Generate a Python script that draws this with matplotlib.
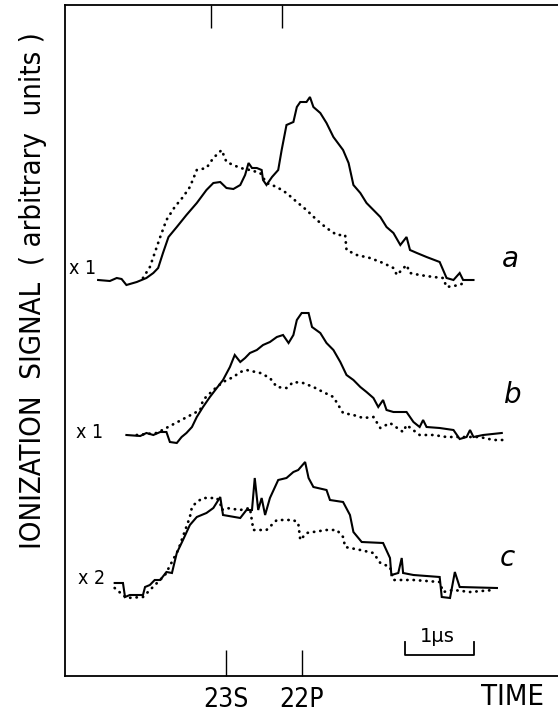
import numpy as np
import matplotlib
matplotlib.use("Agg")
import matplotlib.pyplot as plt

plt.rcParams['font.family'] = ['DejaVu Sans']

# time in microseconds, signal in arbitrary units above each trace's baseline
# trace a (x1)
a_solid_t = [0.48, 0.65, 0.75, 0.82, 0.89, 1.04, 1.18, 1.28, 1.35, 1.42, 1.50, 1.62, 1.76, 1.91,
             2.05, 2.15, 2.25, 2.34, 2.44, 2.54, 2.61, 2.66, 2.71, 2.78, 2.85, 2.87, 2.92, 3.00,
             3.09, 3.14, 3.21, 3.31, 3.36, 3.41, 3.50, 3.55, 3.60, 3.70, 3.79, 3.89, 4.03, 4.11,
             4.18, 4.28, 4.37, 4.47, 4.57, 4.66, 4.76, 4.86, 4.95, 5.00, 5.10, 5.24, 5.43, 5.53,
             5.63, 5.72, 5.77, 5.92]
a_solid_s = [0, -1, 2, 1, -5, -2, 2, 7, 12, 27, 43, 53, 65, 77,
             90, 97, 98, 92, 91, 95, 105, 117, 112, 112, 110, 100, 95, 103,
             110, 130, 155, 158, 173, 178, 178, 183, 173, 167, 157, 143, 130, 117,
             95, 87, 77, 70, 63, 53, 47, 35, 43, 30, 27, 23, 18, 2,
             0, 7, 0, 0]
a_dot_t = [1.13, 1.23, 1.30, 1.38, 1.47, 1.59, 1.71, 1.81, 1.91, 2.05, 2.15, 2.27, 2.34, 2.54,
           2.68, 2.83, 2.92, 3.07, 3.21, 3.36, 3.50, 3.65, 3.79, 3.94, 4.06, 4.08, 4.23, 4.42,
           4.61, 4.76, 4.81, 4.95, 5.00, 5.14, 5.34, 5.48, 5.53, 5.72, 5.80]
a_dot_s = [2, 13, 27, 43, 60, 73, 83, 93, 110, 112, 122, 130, 118, 112,
           110, 107, 97, 93, 87, 78, 70, 60, 52, 45, 45, 30, 25, 22,
           17, 12, 5, 15, 7, 5, 3, 2, -7, -5, -2]

# trace b (x1)
b_solid_t = [0.89, 1.09, 1.18, 1.28, 1.38, 1.47, 1.52, 1.62, 1.69, 1.76, 1.84, 1.91, 2.00, 2.10,
             2.20, 2.29, 2.39, 2.46, 2.54, 2.61, 2.68, 2.78, 2.87, 2.97, 3.07, 3.16, 3.24, 3.31,
             3.36, 3.43, 3.53, 3.58, 3.70, 3.79, 3.89, 3.99, 4.08, 4.18, 4.28, 4.37, 4.47, 4.54,
             4.61, 4.66, 4.76, 4.95, 5.05, 5.14, 5.19, 5.24, 5.43, 5.63, 5.72, 5.82, 5.87, 5.92,
             6.06, 6.33]
b_solid_s = [0, -1, 2, 0, 3, 3, -7, -8, -2, 2, 8, 18, 28, 38,
             47, 55, 68, 80, 73, 77, 82, 85, 90, 93, 98, 100, 92, 100,
             115, 122, 122, 108, 102, 92, 85, 73, 60, 55, 48, 43, 37, 28,
             35, 25, 23, 23, 13, 8, 15, 8, 7, 5, -4, -2, 5, -2,
             0, 2]
b_dot_t = [1.04, 1.33, 1.96, 2.00, 2.15, 2.29, 2.44, 2.54, 2.63, 2.83, 2.97, 3.07, 3.21, 3.31,
           3.45, 3.60, 3.74, 3.89, 4.03, 4.18, 4.32, 4.47, 4.57, 4.71, 4.90, 4.95, 5.14, 5.34,
           5.53, 5.72, 6.01, 6.21, 6.35]
b_dot_s = [0, 2, 25, 35, 45, 53, 58, 63, 65, 62, 57, 48, 47, 53,
           52, 48, 43, 38, 22, 20, 17, 18, 7, 12, 3, 10, 0, 0,
           -2, -2, -2, -5, -5]

# trace c (x2)
c_solid_t = [0.72, 0.84, 0.87, 0.94, 1.13, 1.16, 1.23, 1.30, 1.38, 1.47, 1.55, 1.62, 1.71, 1.81,
             1.91, 2.05, 2.15, 2.25, 2.29, 2.54, 2.63, 2.71, 2.75, 2.80, 2.85, 2.90, 2.97, 3.09,
             3.21, 3.31, 3.38, 3.48, 3.53, 3.60, 3.79, 3.84, 4.03, 4.13, 4.18, 4.30, 4.61, 4.71,
             4.73, 4.83, 4.88, 4.90, 5.05, 5.43, 5.46, 5.58, 5.65, 5.72, 6.26]
c_solid_s = [2, 2, -12, -10, -10, -2, 0, 5, 5, 13, 12, 32, 45, 60,
             68, 72, 77, 88, 70, 67, 75, 75, 107, 75, 87, 70, 87, 105,
             107, 113, 115, 123, 107, 98, 95, 85, 83, 70, 53, 43, 42, 27,
             10, 12, 27, 12, 10, 8, -12, -13, 13, -2, -3]
c_dot_t = [0.72, 0.89, 1.13, 1.26, 1.45, 1.64, 1.81, 1.84, 1.91, 2.00, 2.20, 2.25, 2.27, 2.34,
           2.54, 2.68, 2.73, 2.92, 3.07, 3.31, 3.38, 3.41, 3.50, 3.79, 3.94, 4.03, 4.06, 4.28,
           4.47, 4.57, 4.71, 4.76, 5.05, 5.43, 5.48, 5.63, 5.87, 6.21]
c_dot_s = [-3, -13, -12, -3, 10, 35, 68, 78, 83, 87, 87, 82, 75, 77,
           75, 77, 55, 55, 65, 65, 62, 45, 52, 55, 55, 48, 38, 35,
           32, 22, 18, 5, 5, 3, -7, -5, -7, -5]

traces = [
    (a_solid_t, a_solid_s, a_dot_t, a_dot_s, 396),
    (b_solid_t, b_solid_s, b_dot_t, b_dot_s, 241),
    (c_solid_t, c_solid_s, c_dot_t, c_dot_s, 91),
]
trace_names = ['a', 'b', 'c']
gain_labels = ['x 1', 'x 1', 'x 2']

marker_pos = [2.33, 3.43]          # bottom ticks
marker_labels = ['23S', '22P']
top_marks = [2.12, 3.14]

fig = plt.figure(figsize=(5.58, 7.17), dpi=100)
ax = fig.add_axes([65 / 558, 41 / 717, 493 / 558, 671 / 717])

for st, ss, dt, ds, off in traces:
    ax.plot(st, np.array(ss) + off, color='black', lw=1.5, solid_joinstyle='miter')
    ax.plot(dt, np.array(ds) + off, color='black', lw=2.0,
            linestyle=(0, (0.1, 2.2)), dash_capstyle='round')

ax.set_xlim(0, 493 / 69)
ax.set_ylim(0, 671)
ax.spines['right'].set_visible(False)
for s in ['left', 'bottom', 'top']:
    ax.spines[s].set_linewidth(1.3)

ax.set_yticks([])
ax.set_xticks(marker_pos)
ax.set_xticklabels(marker_labels, fontsize=19, fontstretch='condensed')
ax.tick_params(axis='x', direction='in', length=19, width=1.0, pad=8)
ax.vlines(top_marks, 648, 671, color='black', lw=1.0)

# gain and trace labels
gain_xy = [(0.26, 408), (0.36, 244), (0.39, 98)]
name_xy = [(6.45, 417), (6.49, 281), (6.41, 118)]
for (gx, gy), g in zip(gain_xy, gain_labels):
    ax.text(gx, gy, g, fontsize=14, ha='center', va='center', fontstretch='condensed')
for (nx, ny), n in zip(name_xy, trace_names):
    ax.text(nx, ny, n, fontsize=20, style='italic', ha='center', va='center')

# 1 microsecond scale bar
ax.plot([4.93, 4.93, 5.93, 5.93], [34, 21, 21, 34], color='black', lw=1.3)
ax.text(5.40, 39, '1\u03bcs', fontsize=14, ha='center', va='center')

ax.text(6.48, -21, 'TIME', fontsize=21, ha='center', va='center', clip_on=False,
        fontstretch='condensed')
fig.text(33 / 558, 1 - 291 / 717, 'IONIZATION  SIGNAL  ( arbitrary  units )',
         rotation=90, fontsize=21, ha='center', va='center', fontstretch='condensed')

fig.savefig('out.png', dpi=100)
